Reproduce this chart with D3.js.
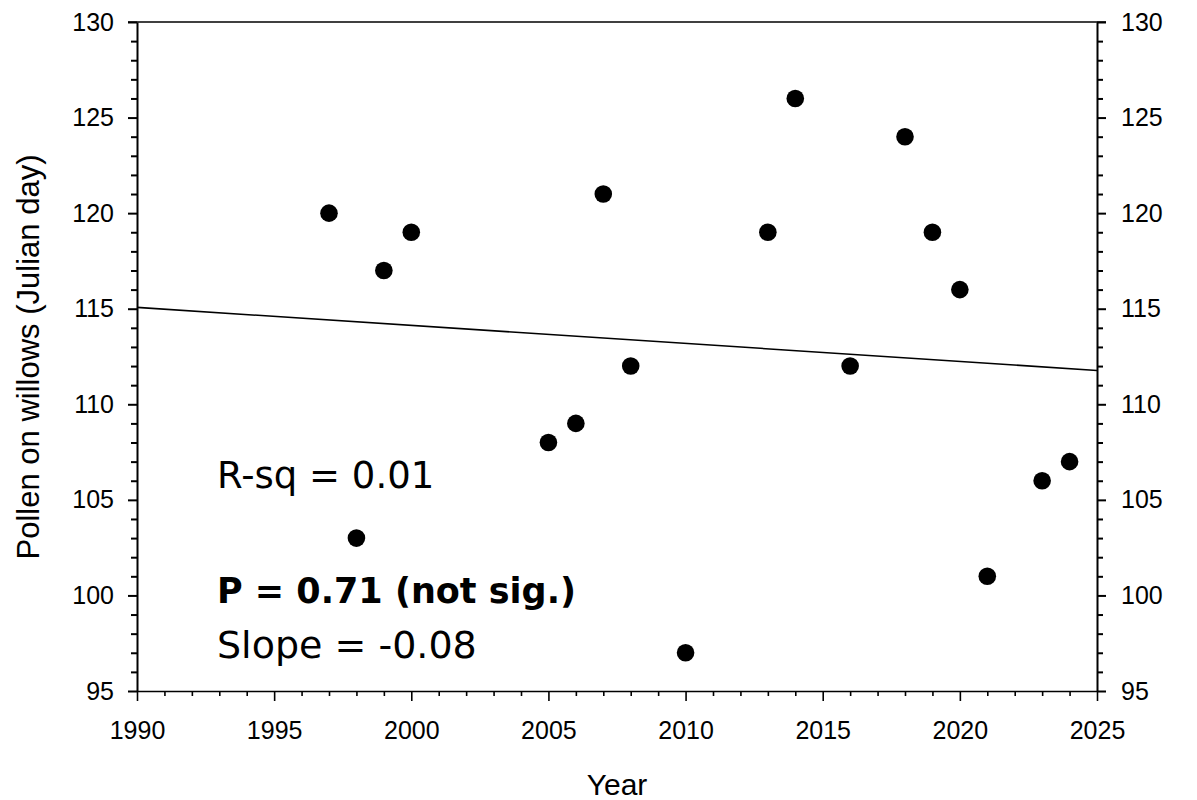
<!DOCTYPE html>
<html>
<head>
<meta charset="utf-8">
<script src="https://cdn.jsdelivr.net/npm/d3@7"></script>
<style>
  html, body { margin: 0; padding: 0; background: #fff; }
  svg { display: block; }
</style>
</head>
<body>
<svg id="chart" width="1197" height="800"></svg>
<script>
// ---- data ----
const years  = [1997, 1998, 1999, 2000, 2005, 2006, 2007, 2008, 2010, 2013, 2014, 2016, 2018, 2019, 2020, 2021, 2023, 2024];
const pollenDay = [120, 103, 117, 119, 108, 109, 121, 112, 97, 119, 126, 112, 124, 119, 116, 101, 106, 107];
const trendYears = [1990, 2025];
const trendValues = [115.07, 111.77];
const xTicks = [1990, 1995, 2000, 2005, 2010, 2015, 2020, 2025];
const yTicks = [95, 100, 105, 110, 115, 120, 125, 130];
const statsLines = ["R-sq = 0.01", "P = 0.71 (not sig.)", "Slope = -0.08"];

// ---- layout ----
const svg = d3.select("#chart");
const L = 137, R = 1097, T = 22, B = 691;
const x = d3.scaleLinear().domain([1990, 2025]).range([L, R]);
const y = d3.scaleLinear().domain([95, 130]).range([B, T]);

const axisFont = "'Liberation Sans', Arial, sans-serif";
const xMinor = d3.range(1990, 2026, 1).filter(v => v % 5 !== 0);
const yMinor = d3.range(95, 131, 1).filter(v => v % 5 !== 0);

function styleAxis(g, sw) {
  g.select(".domain").attr("stroke", "#000").attr("stroke-width", sw);
  g.selectAll(".tick line").attr("stroke", "#000").attr("stroke-width", sw);
  g.selectAll(".tick text").attr("fill", "#000")
    .style("font-family", axisFont).style("font-size", "25px");
}

// top border
svg.append("line").attr("x1", L - 9).attr("x2", R + 9).attr("y1", T).attr("y2", T)
  .attr("stroke", "#000").attr("stroke-width", 1.6);

// bottom axis minor
svg.append("g").attr("transform", `translate(0,${B})`)
  .call(d3.axisBottom(x).tickValues(xMinor).tickSize(5).tickFormat("").tickSizeOuter(0))
  .call(g => { g.select(".domain").remove(); g.selectAll(".tick line").attr("stroke", "#000").attr("stroke-width", 1.6); });
// bottom axis major
const gx = svg.append("g").attr("transform", `translate(0,${B})`)
  .call(d3.axisBottom(x).tickValues(xTicks).tickSize(10).tickFormat(d3.format("d")).tickSizeOuter(0));
styleAxis(gx, 1.6);
gx.selectAll(".tick text").attr("y", 48).attr("dy", 0);

// left axis
svg.append("g").attr("transform", `translate(${L},0)`)
  .call(d3.axisLeft(y).tickValues(yMinor).tickSize(6).tickFormat("").tickSizeOuter(0))
  .call(g => { g.select(".domain").remove(); g.selectAll(".tick line").attr("stroke", "#000").attr("stroke-width", 2); });
const gyl = svg.append("g").attr("transform", `translate(${L},0)`)
  .call(d3.axisLeft(y).tickValues(yTicks).tickSize(9).tickPadding(14).tickSizeOuter(0));
styleAxis(gyl, 2);

// right axis
svg.append("g").attr("transform", `translate(${R},0)`)
  .call(d3.axisRight(y).tickValues(yMinor).tickSize(6).tickFormat("").tickSizeOuter(0))
  .call(g => { g.select(".domain").remove(); g.selectAll(".tick line").attr("stroke", "#000").attr("stroke-width", 2); });
const gyr = svg.append("g").attr("transform", `translate(${R},0)`)
  .call(d3.axisRight(y).tickValues(yTicks).tickSize(9).tickPadding(15).tickSizeOuter(0));
styleAxis(gyr, 2);

// trend line
svg.append("path")
  .datum(trendYears.map((yr, i) => [yr, trendValues[i]]))
  .attr("d", d3.line().x(d => x(d[0])).y(d => y(d[1])))
  .attr("stroke", "#000").attr("stroke-width", 1.6).attr("fill", "none");

// points
svg.append("g").selectAll("circle")
  .data(years.map((yr, i) => [yr, pollenDay[i]]))
  .join("circle")
  .attr("cx", d => x(d[0])).attr("cy", d => y(d[1])).attr("r", 8.8)
  .attr("fill", "#000");

// axis titles
svg.append("text").attr("x", (L + R) / 2).attr("y", 795).attr("text-anchor", "middle")
  .style("font-family", axisFont).style("font-size", "30px").text("Year");
svg.append("text").attr("transform", `translate(39,357) rotate(-90)`)
  .attr("text-anchor", "middle")
  .style("font-family", axisFont).style("font-size", "31px").text("Pollen on willows (Julian day)");

// stats annotation
const statFont = "'DejaVu Sans', sans-serif";
const statY = [488, 603, 658];
const statSize = [37, 35, 38];
statsLines.forEach((t, i) => {
  svg.append("text").attr("x", 217).attr("y", statY[i])
    .attr("font-family", statFont).attr("font-size", statSize[i])
    .attr("font-weight", i === 1 ? "700" : "400")
    .text(t);
});
</script>
</body>
</html>
